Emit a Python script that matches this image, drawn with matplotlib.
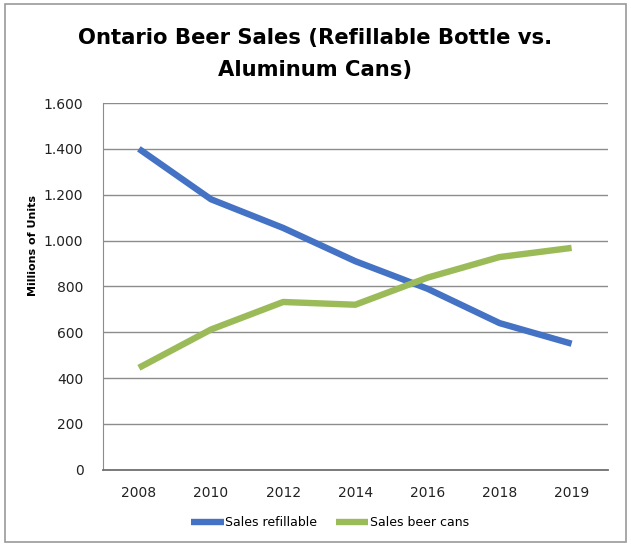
import matplotlib.pyplot as plt
from matplotlib.patches import Rectangle

# data
years = ["2008", "2010", "2012", "2014", "2016", "2018", "2019"]
sales_refillable = [1400, 1180, 1055, 910, 790, 640, 550]
sales_cans = [445, 612, 732, 720, 838, 928, 968]
y_ticks = [0, 200, 400, 600, 800, 1000, 1200, 1400, 1600]
y_tick_labels = ["0", "200", "400", "600", "800", "1.000", "1.200", "1.400", "1.600"]

plt.rcParams["font.family"] = ["DejaVu Sans"]

fig = plt.figure(figsize=(6.31, 5.45), dpi=100)
ax = fig.add_axes([0.163, 0.138, 0.80, 0.673])

x = range(len(years))
ax.plot(x, sales_refillable, color="#4472C4", lw=4.6, solid_capstyle="butt",
        label="Sales refillable")
ax.plot(x, sales_cans, color="#9BBB59", lw=4.6, solid_capstyle="butt",
        label="Sales beer cans")

ax.set_xlim(-0.5, len(years) - 0.5)
ax.set_ylim(0, 1600)
ax.set_xticks(list(x))
ax.set_xticklabels(years)
ax.set_yticks(y_ticks)
ax.set_yticklabels(y_tick_labels)
ax.tick_params(length=0, labelsize=10, pad=12)
ax.tick_params(axis="y", pad=14)
for lab in ax.get_xticklabels() + ax.get_yticklabels():
    lab.set_color("#222222")

ax.grid(axis="y", color="#8c8c8c", lw=1)
ax.set_axisbelow(True)
for side in ["top", "right"]:
    ax.spines[side].set_visible(False)
ax.spines["left"].set_color("#8c8c8c")
ax.spines["bottom"].set_color("#707070")
ax.spines["bottom"].set_linewidth(1.3)

fig.text(0.052, 0.55, "Millions of Units", rotation=90, ha="center",
         va="center", fontsize=8, fontweight="bold")

fig.text(0.5, 0.901, "Ontario Beer Sales (Refillable Bottle vs.\nAluminum Cans)",
         ha="center", va="center", fontsize=15.2, fontweight="bold",
         linespacing=1.7)

ax.legend(loc="center", bbox_to_anchor=(0.45, -0.145), ncol=2, frameon=False,
          fontsize=9, handlelength=2.6, handletextpad=0.1, columnspacing=1.5)

fig.patches.append(Rectangle((0.008, 0.006), 0.984, 0.986, transform=fig.transFigure,
                             fill=False, ec="#9a9a9a", lw=1.2))

fig.savefig("out.png", dpi=100)
